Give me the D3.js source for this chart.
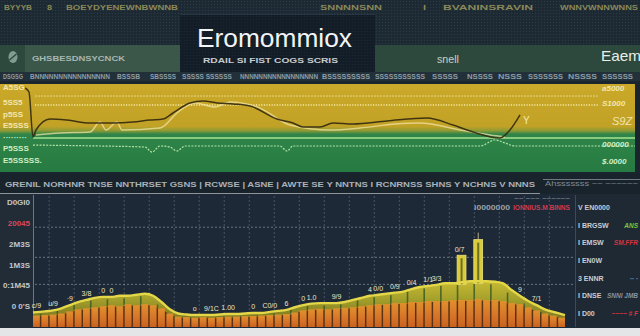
<!DOCTYPE html>
<html>
<head>
<meta charset="utf-8">
<title>Eromommiox</title>
<script src="https://cdn.jsdelivr.net/npm/d3@7/dist/d3.min.js"></script>
<style>
  html, body { margin: 0; padding: 0; background: #1b2730; overflow: hidden; }
  svg { display: block; }
  text { font-family: "Liberation Sans", Arial, sans-serif; }
</style>
</head>
<body>
<svg id="chart" width="640" height="336"></svg>
<script>
// ---------- data ----------
const titleText = "Eromommiox";
const subtitleText = "RDAIL SI FIST COGS SCRIS";
const headerTags = ["BYYYB", "8", "BOEYDYENEWNBWNNB", "SNNNNSNN", "I", "BVANINSRAVIN", "WNNVWNNWNNS"];
const stripTags = ["DSGSG", "BNNNNNNNNNNNNNNNN", "BSSSB", "SBSSSS", "SSSSS SSSSSS", "NNNNNNNNNNNNNNNNN",
                   "BSSSSSSSSS", "SSSSSSSSSSS", "SSSSS", "NSSSS", "NSSS", "SSSSSSS", "NSSSS", "SSSSSS"];
const bandLabel = "GHSBESDNSYCNCK";
const bandMid = "snell";
const bandRight = "Eaem";
const sectionText = "GRENIL NORHNR  TNSE NNTHRSET GSNS | RCWSE | ASNE | AWTE SE Y NNTNS I RCNRNSS SHNS Y NCHNS V NNNS";
const sectionNote = "Ahsssssss ~~ ~~~~~~";

// upper panel: price line, its shadow and the signal line (x in days)
const topDays   = [0, 0.4, 0.8, 1.1, 2.5, 4.2, 6.5, 8.8, 10.8, 12.5, 13.8, 14.8, 16.5, 17.8, 19.2, 20.8, 22.5,
                   25.2, 26.8, 27.8, 29.5, 30.8, 32.8, 36.2, 40.2, 42.8, 44.8, 47.5, 48.5, 49.5];
const topPrice  = [95.3, 90.7, 38.4, 46.5, 59.3, 58.1, 54.7, 54.7, 55.8, 58.1, 59.3, 66.3, 77.9, 80.2, 77.9, 76.7, 74.4,
                   59.3, 54.7, 50, 50, 54.7, 53.5, 57, 60.5, 52.3, 44.2, 37.2, 46.5, 64];
const shadowDays  = [1.1, 3.5, 6.5, 7.5, 8.1, 9.2, 9.7, 13.5, 15.3, 17, 19, 20.5, 23.5, 26.5, 30.5, 33.5, 37, 39.5, 43.5, 46.5, 48];
const shadowPrice = [40.7, 43, 44.2, 55.8, 46.5, 55.8, 46.5, 48.8, 67.4, 77.9, 73.3, 79, 72, 52.3, 46.5, 48.8, 53.5, 54.7, 46.5, 40.7, 38.4];
const signalDays   = [0.8, 7.5, 12, 12.7, 13.5, 14.5, 15.2, 16, 25.5, 26.2, 26.8, 45.5, 47, 48, 49, 61];
const signalValues = [29, 27.9, 26.7, 20.9, 27.9, 26.7, 22.1, 27.9, 27.9, 22.1, 27.9, 27.9, 34.9, 31.4, 27.9, 27.9];
const topLevels = [86, 75.6, 37.2];
const topLeftTicks  = [96.5, 79, 65, 52, 38.4, 25.6, 11.6];
const topLeftLabels = ["A5SG", "5SS5", "p5SS", "E5SSS", "·········", "P5SSS", "E5SSSSS."];
const topRightTicks  = [95.3, 78, 55.8, 30.2, 10.5];
const topRightLabels = ["a5000", "S1000", "S9Z", "000000", "$.0000"];

// lower panel: volume bars and trend line
const barValues  = [11, 11.5, 12, 13, 15, 17, 18, 19, 20, 21, 20, 22, 21, 22, 21, 18, 13, 10, 9.5, 9, 9.5, 9,
                    9.5, 10, 10, 10.5, 10.5, 11, 11.5, 12, 12.5, 14, 16, 17, 17.5, 17, 18, 18.5, 19, 20, 21, 22,
                    22, 23, 23, 24, 24, 25, 25, 25, 26, 26, 26, 27, 26, 26, 25, 23, 22, 19, 16, 13, 11, 9];
const lineValues = [14, 15, 16, 18, 21, 24, 26, 28, 29, 29, 30, 30, 31, 32, 30, 24, 17, 13, 12, 11.5, 11.5, 11.5,
                    12, 12.5, 12.5, 13, 13.5, 13.5, 14.5, 15.5, 16.5, 19, 21, 22.5, 23, 23, 23, 24, 26, 28, 30, 31,
                    32, 33, 34, 36.5, 38.5, 39.5, 40.5, 42, 42, 43, 44, 44, 44, 43.5, 42, 35.5, 30, 25, 21, 17, 14.5, 11.5];
const spikeIndex  = [51, 53];
const spikeValues = [69, 84];
const lowerTicks  = [20, 40, 60, 80, 100, 120];
const lowerLabels = ["0 0'S", "0:1M45", "1M3S", "2M3S", "20045", "D0GI0"];
const lowerGrid   = [41, 67, 96];
const noteIndex = [0, 2, 4, 6, 8, 9, 19, 21, 23, 26, 28, 30, 32, 33, 36, 40, 41, 43, 45, 47, 48, 58, 60];
const noteText  = ["c/9", "u/9", "·9", "3/8", "0", "0", "o", "9/1C", "1.00", "0", "C0/0", "6", "0", "1.0",
                   "9/9", "4", "0/0", "0/9", "0/4", "1/1", "3/3", "9", "7/1"];
const spikeNote = "0/7";

// side list
const sideKeys  = ["V", "I", "I", "I", "3", "I", "I"];
const sideNames = ["EN0000", "BRGSW", "EMSW", "EN0W", "ENNR", "DNSE", "D00"];
const sideNotes = ["", "ANS", "SM.FFR", "", "·· ·", "SNNI JMB", "~~~~ # F"];
const sideTrend = ["flat", "up", "down", "flat", "flat", "flat", "down"];
const topNoteGray = "i0000000";
const topNoteRed  = "IONNIUS.M  BINNS";

// ---------- drawing ----------
const svg = d3.select("#chart");
const defs = svg.append("defs");

const mesh = defs.append("pattern").attr("id", "mesh").attr("width", 3).attr("height", 3)
  .attr("patternUnits", "userSpaceOnUse");
mesh.append("rect").attr("width", 3).attr("height", 3).attr("fill", "#1c2932");
mesh.append("circle").attr("cx", 1.5).attr("cy", 1.5).attr("r", 0.7).attr("fill", "#2a3a43");

const meshDark = defs.append("pattern").attr("id", "meshDark").attr("width", 3).attr("height", 3)
  .attr("patternUnits", "userSpaceOnUse");
meshDark.append("rect").attr("width", 3).attr("height", 3).attr("fill", "#131d27");
meshDark.append("circle").attr("cx", 1.5).attr("cy", 1.5).attr("r", 0.6).attr("fill", "#1b2731");

function vGrad(id, stops, units) {
  const g = defs.append("linearGradient").attr("id", id).attr("x1", 0).attr("x2", 0).attr("y1", 0).attr("y2", 1);
  if (units) g.attr("gradientUnits", "userSpaceOnUse").attr("y1", units[0]).attr("y2", units[1]);
  stops.forEach(s => g.append("stop").attr("offset", s[0]).attr("stop-color", s[1]));
}
vGrad("bandGrad", [[0, "#caa92c"], [0.12, "#c8a728"], [0.48, "#c2a226"], [0.53, "#8f9a34"], [0.57, "#2f8549"], [1, "#267a42"]]);
vGrad("barGrad", [[0, "#e0902c"], [0.5, "#d8782a"], [1, "#c9621f"]]);
vGrad("fillGrad", [[0, "#cdbf36"], [0.5, "#a7a22c"], [1, "#7d7a22"]], [278, 318]);

// page background and header
svg.append("rect").attr("width", 640).attr("height", 336).attr("fill", "#1b2730");
svg.append("rect").attr("width", 640).attr("height", 46).attr("fill", "url(#mesh)");

function tag(t, x, y, w, size, fill, weight) {
  const el = svg.append("text").attr("x", x).attr("y", y).attr("font-size", size)
    .attr("font-weight", weight || "bold").attr("fill", fill).text(t);
  if (w) el.attr("textLength", w).attr("lengthAdjust", "spacingAndGlyphs");
  return el;
}

const headerSlots = [[4, 28], [47, 5], [66, 112], [320, 62], [423, 3], [443, 90], [560, 78]];
headerTags.forEach((t, i) => tag(t, headerSlots[i][0], 10, headerSlots[i][1], 7, "#8a8858"));

// green ribbon
svg.append("rect").attr("x", 0).attr("y", 45).attr("width", 640).attr("height", 27).attr("fill", "#2d483d");
svg.append("rect").attr("x", 25).attr("y", 45).attr("width", 155).attr("height", 27).attr("fill", "#3a5749");
svg.append("ellipse").attr("cx", 13).attr("cy", 57).attr("rx", 4.5).attr("ry", 6).attr("fill", "#7f9c8e");
svg.append("line").attr("x1", 9.5).attr("y1", 60).attr("x2", 16.5).attr("y2", 54).attr("stroke", "#2d483d").attr("stroke-width", 1.4);
tag(bandLabel, 32, 61, 93, 8, "#a9b6b1");
tag(bandMid, 437, 63, 22, 10, "#c9d2c2", "normal");
tag(bandRight, 601, 61, 40, 15, "#e9efe8", "normal");

// title box
svg.append("rect").attr("x", 180).attr("y", 14).attr("width", 195).attr("height", 58).attr("fill", "url(#meshDark)");
svg.append("line").attr("x1", 180).attr("x2", 375).attr("y1", 14.5).attr("y2", 14.5).attr("stroke", "#263542");
tag(titleText, 197, 47, 155, 26, "#f2f4f6", "normal");
tag(subtitleText, 203, 63, 135, 8, "#c8ccd0");

// thin label strip
svg.append("rect").attr("x", 0).attr("y", 72).attr("width", 640).attr("height", 9).attr("fill", "#223039");
const stripSlots = [[3, 20], [30, 80], [117, 23], [150, 26], [182, 50], [240, 78], [322, 48], [375, 50], [432, 26],
                    [467, 26], [498, 24], [528, 35], [568, 29], [602, 31]];
stripTags.forEach((t, i) => tag(t, stripSlots[i][0], 78.5, stripSlots[i][1], 6.5, "#8d9ea7"));

// ---------- upper panel ----------
const xTop = d3.scaleLinear().domain([0, 61]).range([25, 635]);
const yTop = d3.scaleLinear().domain([0, 100]).range([170, 84]);

svg.append("rect").attr("x", 0).attr("y", 81).attr("width", 640).attr("height", 92).attr("fill", "#1a252d");
svg.append("rect").attr("x", 0).attr("y", yTop(100)).attr("width", 635).attr("height", 172 - yTop(100))
  .attr("fill", "url(#bandGrad)");

const levelStyle = [
  { stroke: "#f1e4a0", width: 1, dash: "2,1", x0: 35, x1: 598, op: 0.75 },
  { stroke: "#f3e59a", width: 2, dash: "1.2,1.4", x0: 35, x1: 598, op: 0.8 },
  { stroke: "#b3ee9a", width: 1.3, dash: null, x0: 33, x1: 635, op: 0.9 }
];
topLevels.forEach((v, i) => {
  const s = levelStyle[i];
  svg.append("line").attr("x1", s.x0).attr("x2", s.x1).attr("y1", yTop(v)).attr("y2", yTop(v))
    .attr("stroke", s.stroke).attr("stroke-width", s.width).attr("stroke-dasharray", s.dash)
    .attr("opacity", s.op);
});

const topLine = d3.line().curve(d3.curveMonotoneX);
svg.append("path")
  .attr("d", topLine(signalDays.map((d, i) => [xTop(d), yTop(signalValues[i])])))
  .attr("fill", "none").attr("stroke", "#cdf3b6").attr("stroke-width", 1.2)
  .attr("stroke-dasharray", "2,1.3").attr("opacity", 0.85);
svg.append("path")
  .attr("d", topLine(shadowDays.map((d, i) => [xTop(d), yTop(shadowPrice[i])])))
  .attr("fill", "none").attr("stroke", "#f2e7aa").attr("stroke-width", 1.5).attr("opacity", 0.7);
svg.append("path")
  .attr("d", topLine(topDays.map((d, i) => [xTop(d), yTop(topPrice[i])])))
  .attr("fill", "none").attr("stroke", "#33290f").attr("stroke-width", 1.5).attr("opacity", 0.9);
tag("Y", xTop(topDays[topDays.length - 1]) + 3, yTop(topPrice[topPrice.length - 1]) + 9, null, 10, "#f3e8a8", "normal");

topLeftTicks.forEach((v, i) => tag(topLeftLabels[i], 3, yTop(v) + 3, null, 8, i < 4 ? "#f1e6b2" : "#cfeec4"));
topRightTicks.forEach((v, i) => {
  const big = i === 2;
  tag(topRightLabels[i], big ? 612 : 602, yTop(v) + 3, null, big ? 11 : 8, i < 3 ? "#f1e6b2" : "#d2f0c8", big ? "normal" : "bold")
    .attr("font-style", "italic");
});

// ---------- section row ----------
svg.append("rect").attr("x", 0).attr("y", 173).attr("width", 640).attr("height", 21).attr("fill", "#19232c");
tag(sectionText, 5, 186.5, 530, 8, "#a9b1b7");
tag(sectionNote, 545, 186, 93, 6.5, "#7f8a93", "normal");
svg.append("line").attr("x1", 0).attr("x2", 540).attr("y1", 193.5).attr("y2", 193.5).attr("stroke", "#8c949a").attr("stroke-width", 1.2);
svg.append("line").attr("x1", 543).attr("x2", 640).attr("y1", 179.5).attr("y2", 179.5).attr("stroke", "#6f7a82");

// ---------- lower panel ----------
const xB = d3.scaleBand().domain(d3.range(barValues.length)).range([33, 565]).paddingInner(0.18);
const yB = d3.scaleLinear().domain([0, 125]).range([327, 197]);
const bw = xB.bandwidth();
const cx = i => xB(i) + bw / 2;

svg.append("rect").attr("x", 0).attr("y", 194).attr("width", 33).attr("height", 134).attr("fill", "#212c36");
svg.append("rect").attr("x", 33).attr("y", 194).attr("width", 542).attr("height", 134).attr("fill", "#1e2937");
svg.append("rect").attr("x", 575).attr("y", 194).attr("width", 65).attr("height", 134).attr("fill", "#1f2934");

// grid
const gx = d3.range(2, barValues.length, 3);
svg.append("g").selectAll("line").data(gx).join("line")
  .attr("x1", i => xB(i) - 0.5).attr("x2", i => xB(i) - 0.5).attr("y1", 196).attr("y2", 327)
  .attr("stroke", "#6a7684").attr("stroke-width", 0.8).attr("stroke-dasharray", "2,2").attr("opacity", 0.7);
svg.append("g").selectAll("line").data(lowerGrid).join("line")
  .attr("x1", 35).attr("x2", 573).attr("y1", d => yB(d)).attr("y2", d => yB(d))
  .attr("stroke", "#8a94a0").attr("stroke-width", 0.9).attr("stroke-dasharray", "2,2").attr("opacity", 0.8);
svg.append("line").attr("x1", 33.5).attr("x2", 33.5).attr("y1", 195).attr("y2", 327).attr("stroke", "#6d7783");
svg.append("line").attr("x1", 575.5).attr("x2", 575.5).attr("y1", 195).attr("y2", 327).attr("stroke", "#3f4a56");

// y labels
lowerTicks.forEach((v, i) => tag(lowerLabels[i], 30, yB(v) + 3, null, 8, i === 4 ? "#d9485a" : "#c3c7cc")
  .attr("text-anchor", "end"));

const idx = d3.range(barValues.length);
const edgeX = i => i === 0 ? 33 : (i === idx.length - 1 ? 565 : cx(i));

// dark base beneath the bars
svg.append("path")
  .attr("d", d3.area().curve(d3.curveMonotoneX).x(edgeX).y0(yB(0)).y1(i => yB(lineValues[i]))(idx))
  .attr("fill", "#5b3215");
// yellow fill between trend line and bar tops
svg.append("path")
  .attr("d", d3.area().curve(d3.curveMonotoneX).x(edgeX).y0(i => yB(barValues[i]) + 1).y1(i => yB(lineValues[i]))(idx))
  .attr("fill", "url(#fillGrad)");
// green separators in the yellow fill
svg.append("g").selectAll("rect").data(idx.filter(i => i % 2 === 1)).join("rect")
  .attr("x", i => xB(i) - 1.4).attr("width", 1.6)
  .attr("y", i => yB(lineValues[i]) + 2.5)
  .attr("height", i => Math.max(0, yB(barValues[i]) - yB(lineValues[i]) - 1.5))
  .attr("fill", "#3d5a25").attr("opacity", 0.85);
// bars
svg.append("g").selectAll("rect").data(idx).join("rect")
  .attr("x", i => xB(i)).attr("width", bw)
  .attr("y", i => yB(barValues[i])).attr("height", i => yB(0) - yB(barValues[i]))
  .attr("fill", "url(#barGrad)");
// spikes
spikeIndex.forEach((k, j) => {
  const top = yB(spikeValues[j]), base = yB(lineValues[k]) + 2;
  svg.append("rect").attr("x", xB(k) - 1).attr("width", bw + 2).attr("y", top).attr("height", base - top)
    .attr("fill", "#d9cb3a").attr("stroke", "#efe37a").attr("stroke-width", 0.8);
  svg.append("rect").attr("x", xB(k) + bw / 2 - 1).attr("width", 2).attr("y", top + 3).attr("height", base - top - 3)
    .attr("fill", "#4e5a22").attr("opacity", 0.8);
});
svg.append("line").attr("x1", cx(spikeIndex[1])).attr("x2", cx(spikeIndex[1]))
  .attr("y1", yB(spikeValues[1])).attr("y2", yB(spikeValues[1]) - 7).attr("stroke", "#d8d0a0").attr("stroke-width", 0.8);
// trend line
svg.append("path")
  .attr("d", d3.line().curve(d3.curveMonotoneX).x(edgeX).y(i => yB(lineValues[i]))(idx))
  .attr("fill", "none").attr("stroke", "#e4d748").attr("stroke-width", 2.4);
// point notes
noteIndex.forEach((k, j) => tag(noteText[j], cx(k), yB(lineValues[k]) - 4, null, 7, "#ece4c4", "normal")
  .attr("text-anchor", "middle"));
tag(spikeNote, cx(spikeIndex[0]) - 2, yB(spikeValues[0]) - 3, null, 7, "#ece4c4", "normal").attr("text-anchor", "middle");

// side list
tag(topNoteGray, 474, 210, 36, 7, "#9aa3ab");
tag(topNoteRed, 513, 210, 57, 7, "#d3394b");
tag("~~ ~~~ ~~~~~~", 514, 200, 56, 6, "#8d969f", "normal");
const ySide = d3.scalePoint().domain(d3.range(sideKeys.length)).range([210, 316]);
const trendColor = { up: "#79c83e", down: "#d6343f", flat: "#8a939b" };
sideKeys.forEach((k, i) => {
  tag(k + " " + sideNames[i], 578, ySide(i), null, 7, "#c9cdd1");
  if (sideNotes[i]) tag(sideNotes[i], 638, ySide(i), null, 6.5, trendColor[sideTrend[i]]).attr("text-anchor", "end")
    .attr("font-style", "italic");
});

// bottom edge
svg.append("rect").attr("x", 0).attr("y", 328).attr("width", 640).attr("height", 8).attr("fill", "#e3e5e7");
</script>
</body>
</html>
